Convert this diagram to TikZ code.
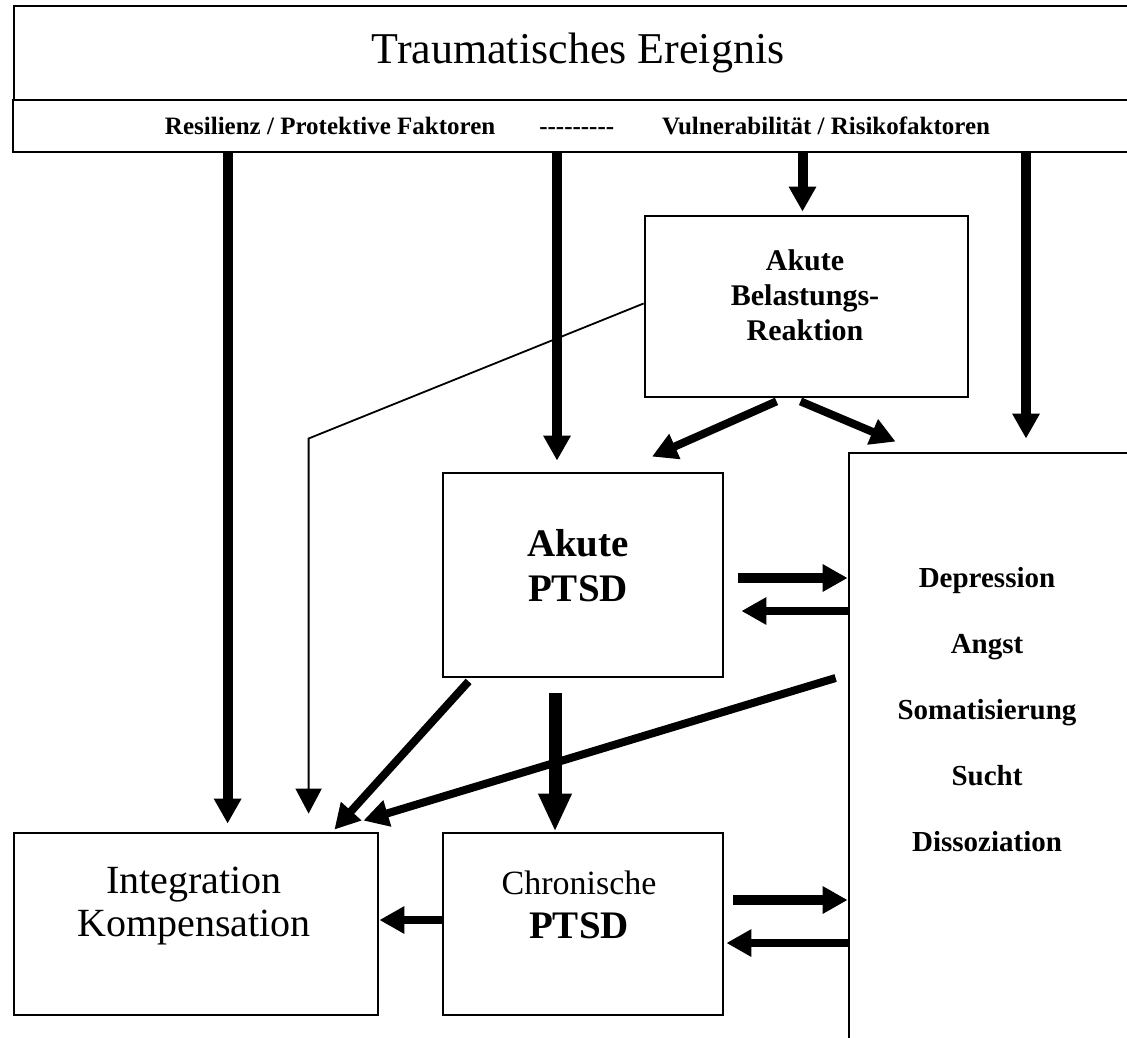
\documentclass[tikz,border=0pt]{standalone}
\usepackage{fontspec}
\setmainfont{Liberation Serif}
\usepackage{tikz}
\usetikzlibrary{
    arrows.meta,
    calc
}

\newcommand{\fsz}[2]{\fontsize{#1}{#2}\selectfont}

\begin{document}
\begin{tikzpicture}[x=0.5pt,y=-0.5pt,
    box/.style={draw,line width=1.4pt,inner sep=0pt},
    arr/.style={line width=5pt,-{Triangle[length=12.5pt,width=13pt]}},
    arrd/.style={line width=4pt,-{Triangle[length=12.5pt,width=13pt]}},
    arrbig/.style={line width=6.5pt,-{Triangle[length=19pt,width=15.5pt]}},
    arrthin/.style={line width=0.9pt,-{Triangle[length=12.5pt,width=13pt]}}]
\useasboundingbox (0,0) rectangle (1127,1037);

\node[box,minimum width=564pt,minimum height=47pt,font=\fsz{22}{26}] (trauma) at (578,53) {Traumatisches Ereignis};
\node[box,line width=1pt,minimum width=564.5pt,minimum height=26pt,font=\fsz{12.5}{15}\bfseries] (factors) at (577.5,126)
    {Resilienz / Protektive Faktoren\hspace{22pt}-{}-{}-{}-{}-{}-{}-{}-{}-\hspace{24pt}Vulnerabilit\"at / Risikofaktoren};

\node[box,minimum width=161.5pt,minimum height=90.5pt] (abr) at (806.5,306.5) {};
\node[align=center,font=\fsz{15}{17.5}\bfseries] (abr-t) at (805,295) {Akute\\Belastungs-\\Reaktion};

\node[box,minimum width=140pt,minimum height=102pt] (aptsd) at (583,575) {};
\node[align=center,font=\fsz{19.5}{22.5}\bfseries] (aptsd-t) at (578,566) {Akute\\PTSD};

\node[box,minimum width=140pt,minimum height=91pt] (cptsd) at (583,924) {};
\node[align=center,font=\fsz{17}{22}] (cptsd-t) at (579,905) {Chronische\\{\bfseries\fsz{19.5}{22}PTSD}};

\node[box,minimum width=182pt,minimum height=91pt] (integ) at (196,924) {};
\node[align=center,font=\fsz{20}{21.5}] (integ-t) at (194,906) {Integration\\Kompensation};

\node[box,minimum width=148pt,minimum height=303.5pt] (dep) at (997,756.5) {};
\node[align=center,font=\fsz{14.5}{33}\bfseries] (dep-t) at (987,710) {Depression\\Angst\\Somatisierung\\Sucht\\Dissoziation};

\coordinate (t1) at ($(integ.north west)+(215,-8)$);
\draw[arr] (t1 |- factors.south) -- (t1);
\coordinate (t2) at ($(aptsd.north)+(-26,-11)$);
\draw[arr] (t2 |- factors.south) -- (t2);
\coordinate (t3) at ($(abr.north)+(-4,-3)$);
\draw[arr] (t3 |- factors.south) -- (t3);
\coordinate (t4) at ($(dep.north)+(29,-13)$);
\draw[arr] (t4 |- factors.south) -- (t4);

\coordinate (t5) at ($(integ.north west)+(296,-18)$);
\draw[arrthin] ($(abr.west)+(0,-3)$) -- ++(-335,135) -- (t5);

\draw[arrd] ($(abr.south)+(-30,3)$) -- ($(aptsd.north)+(69,-15)$);
\draw[arrd] ($(abr.south)+(-6,3)$) -- ($(dep.north west)+(48,-10)$);

\coordinate (h1) at ($(aptsd.east)+(14,3)$);
\draw[arr] (h1) -- (h1 -| dep.west);
\coordinate (h2) at ($(aptsd.east)+(17,36)$);
\draw[arrd] (h2 -| dep.west) -- (h2);
\coordinate (h3) at ($(cptsd.east)+(9,-24)$);
\draw[arr] (h3) -- (h3 -| dep.west);
\coordinate (h4) at ($(cptsd.east)+(2,19)$);
\draw[arrd] (h4 -| dep.west) -- (h4);

\coordinate (v1) at ($(aptsd.south)+(-28,15)$);
\draw[arrbig] (v1) -- (v1 |- cptsd.north);

\coordinate (l1) at ($(cptsd.west)+(0,-4)$);
\draw[arrd] (l1) -- (l1 -| integ.east);

\draw[arrd] ($(aptsd.south west)+(27,3)$) -- ($(integ.north east)+(-45,-2)$);
\draw[arrd] ($(dep.west)+(-12,-78.5)$) -- ($(integ.north east)+(-16,-11)$);
\end{tikzpicture}
\end{document}
